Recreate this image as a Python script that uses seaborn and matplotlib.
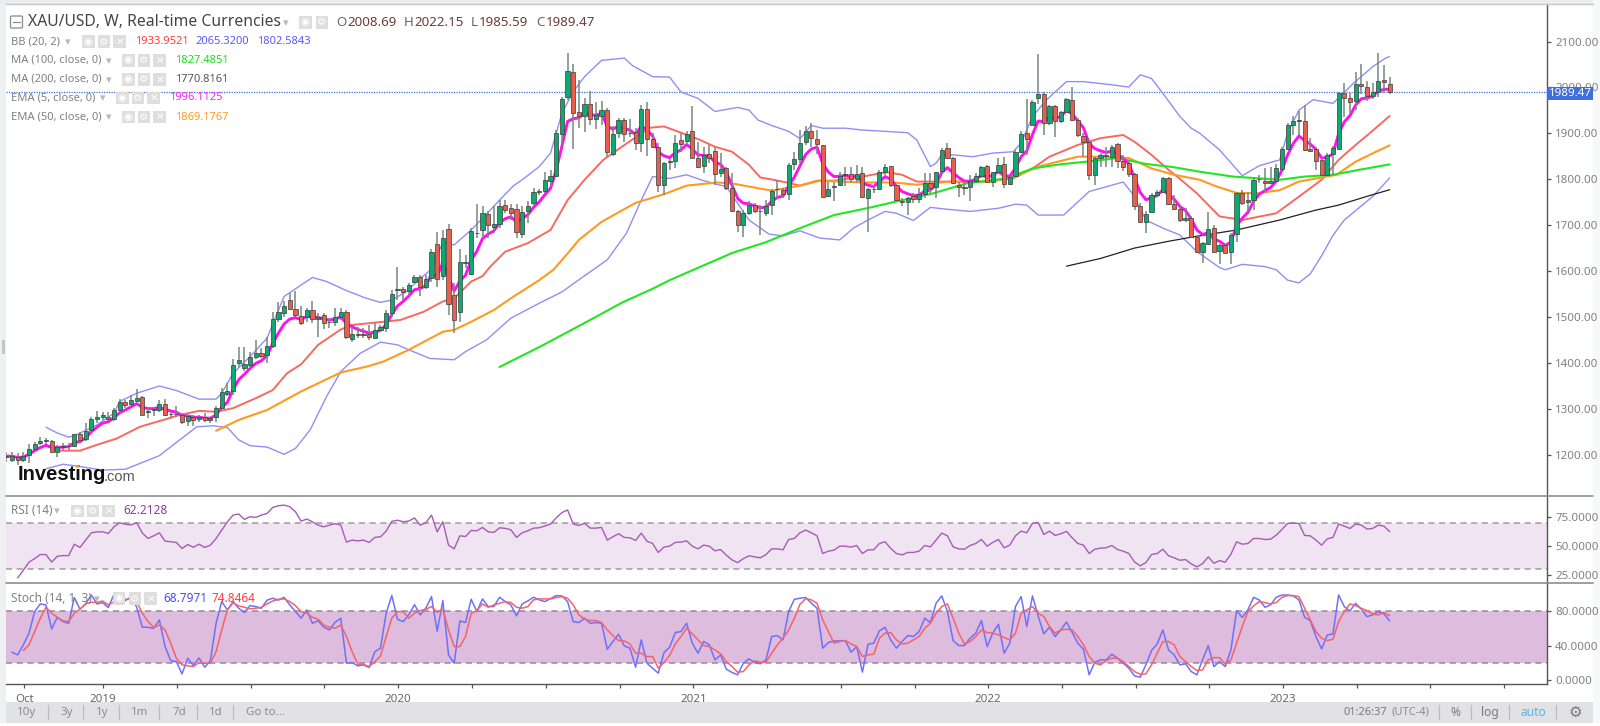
import numpy as np
import matplotlib
matplotlib.use('Agg')
import matplotlib.pyplot as plt
from matplotlib.lines import Line2D
from matplotlib.patches import Rectangle, FancyBboxPatch
import seaborn as sns

# Weekly candles (one value per week, first week is index 0)
opens = [1180,1174,1179,1174,1184,1198,1210,1216,1216,1190,
         1203,1204,1204,1232,1219,1240,1263,1268,1269,1263,
         1285,1301,1298,1304,1313,1280,1283,1285,1297,1275,
         1275,1274,1259,1268,1263,1268,1261,1268,1289,1320,
         1325,1387,1377,1384,1401,1411,1405,1426,1485,1499,
         1527,1508,1492,1490,1504,1485,1493,1478,1478,1490,
         1501,1442,1453,1450,1453,1444,1461,1465,1499,1549,
         1551,1547,1567,1577,1557,1575,1650,1581,1685,1538,
         1501,1609,1585,1675,1683,1717,1689,1695,1737,1730,
         1728,1673,1725,1741,1767,1768,1791,1802,1894,1977,
         2032,1943,1934,1961,1928,1935,1947,1850,1896,1925,
         1896,1898,1874,1950,1884,1865,1781,1833,1834,1880,
         1879,1900,1841,1824,1849,1856,1807,1818,1774,1725,
         1693,1719,1737,1723,1720,1737,1772,1771,1762,1827,
         1838,1877,1900,1884,1869,1758,1776,1782,1804,1806,
         1795,1809,1752,1772,1772,1810,1823,1782,1746,1743,
         1757,1750,1762,1785,1776,1813,1863,1841,1782,1778,
         1776,1791,1802,1824,1787,1810,1827,1783,1801,1854,
         1896,1914,1973,1982,1918,1955,1922,1942,1970,1925,
         1890,1877,1804,1842,1846,1844,1871,1834,1831,1806,
         1736,1700,1721,1760,1767,1796,1740,1729,1703,1708,
         1667,1634,1651,1687,1635,1648,1633,1673,1764,1743,
         1748,1794,1790,1785,1791,1816,1860,1914,1923,1924,
         1860,1860,1837,1804,1849,1862,1984,1973,1967,2005,
         1999,1978,1988,2013,2005]
closes = [1182,1182,1174,1183,1198,1209,1216,1216,1190,1202,
          1203,1204,1230,1218,1238,1263,1268,1272,1265,1285,
          1301,1296,1305,1311,1274,1282,1286,1297,1274,1275,
          1275,1258,1270,1261,1269,1261,1266,1288,1323,1325,
          1384,1395,1386,1401,1411,1404,1426,1485,1501,1514,
          1507,1495,1476,1505,1485,1490,1476,1478,1490,1501,
          1445,1453,1449,1450,1446,1461,1467,1498,1540,1551,
          1545,1560,1577,1557,1574,1633,1574,1664,1518,1484,
          1612,1609,1680,1675,1720,1692,1695,1735,1726,1720,
          1677,1722,1735,1765,1767,1792,1802,1896,1972,2033,
          1940,1935,1961,1928,1936,1947,1854,1894,1925,1894,
          1896,1874,1949,1884,1865,1782,1831,1833,1875,1871,
          1894,1842,1821,1847,1841,1805,1816,1775,1725,1692,
          1719,1737,1725,1723,1735,1768,1772,1762,1826,1838,
          1875,1900,1885,1872,1756,1773,1779,1802,1804,1795,
          1805,1756,1772,1772,1811,1821,1782,1748,1743,1752,
          1750,1761,1785,1774,1811,1859,1841,1785,1778,1775,
          1791,1802,1822,1789,1810,1826,1784,1800,1855,1894,
          1883,1966,1982,1918,1955,1922,1942,1971,1925,1891,
          1877,1804,1841,1848,1846,1865,1834,1821,1805,1736,
          1700,1718,1760,1767,1796,1740,1729,1703,1708,1667,
          1634,1653,1685,1633,1648,1630,1671,1763,1741,1748,
          1793,1794,1785,1791,1818,1861,1915,1922,1923,1859,
          1857,1835,1804,1848,1863,1984,1973,1964,2004,2000,
          1978,1986,2012,2009,1986]
highs = [1192,1192,1188,1192,1209,1214,1225,1221,1218,1207,
         1210,1210,1232,1236,1255,1268,1282,1280,1280,1288,
         1308,1306,1317,1330,1316,1290,1291,1305,1308,1280,
         1293,1277,1273,1272,1273,1277,1269,1293,1332,1343,
         1396,1424,1424,1413,1439,1420,1445,1501,1522,1524,
         1542,1546,1513,1509,1525,1498,1498,1487,1509,1509,
         1504,1468,1468,1465,1472,1476,1472,1505,1549,1601,
         1555,1564,1583,1582,1582,1641,1678,1682,1695,1564,
         1641,1627,1686,1740,1735,1724,1734,1748,1748,1740,
         1740,1735,1745,1774,1772,1811,1815,1903,1977,2073,
         2049,2014,1973,1989,1966,1968,1951,1911,1929,1929,
         1927,1907,1958,1966,1896,1874,1833,1840,1892,1896,
         1900,1956,1877,1866,1870,1866,1852,1822,1807,1726,
         1726,1745,1741,1737,1748,1772,1793,1774,1830,1855,
         1903,1911,1918,1902,1870,1789,1787,1811,1822,1821,
         1826,1822,1774,1782,1815,1828,1824,1784,1752,1756,
         1763,1774,1807,1807,1811,1863,1874,1844,1789,1785,
         1804,1807,1824,1826,1811,1841,1844,1804,1859,1900,
         1971,1970,2071,1988,1958,1958,1944,1973,1998,1929,
         1896,1881,1844,1852,1865,1870,1874,1848,1837,1807,
         1741,1723,1763,1771,1800,1800,1760,1734,1730,1712,
         1671,1656,1721,1693,1651,1651,1675,1765,1770,1767,
         1796,1804,1818,1822,1828,1866,1918,1934,1946,1958,
         1886,1866,1844,1852,1868,1987,2008,1984,2031,2048,
         2011,2008,2073,2047,2020]
lows = [1170,1170,1162,1168,1166,1196,1207,1209,1188,1179,
        1196,1195,1203,1214,1216,1236,1255,1262,1260,1260,
        1282,1288,1295,1302,1273,1266,1271,1280,1271,1266,
        1269,1252,1249,1249,1258,1257,1255,1258,1286,1314,
        1317,1380,1371,1376,1396,1398,1387,1420,1479,1490,
        1505,1490,1472,1479,1476,1446,1462,1465,1470,1483,
        1441,1434,1443,1443,1439,1441,1457,1457,1490,1527,
        1527,1535,1564,1536,1551,1568,1555,1571,1494,1454,
        1479,1597,1582,1664,1664,1664,1675,1686,1719,1704,
        1664,1664,1698,1734,1760,1763,1778,1800,1870,1970,
        1860,1907,1899,1914,1905,1914,1844,1846,1885,1877,
        1888,1859,1855,1846,1863,1767,1760,1815,1818,1855,
        1874,1841,1818,1807,1830,1782,1800,1770,1723,1677,
        1667,1715,1719,1671,1712,1715,1752,1752,1748,1815,
        1830,1870,1866,1850,1754,1754,1745,1779,1779,1785,
        1787,1752,1677,1763,1771,1804,1778,1745,1736,1715,
        1741,1741,1752,1763,1752,1807,1839,1784,1756,1760,
        1747,1785,1796,1787,1778,1807,1774,1782,1800,1852,
        1848,1914,1961,1892,1914,1887,1918,1940,1924,1887,
        1844,1793,1782,1822,1822,1821,1818,1813,1800,1726,
        1697,1675,1719,1756,1763,1737,1726,1700,1700,1664,
        1630,1610,1649,1630,1607,1630,1607,1656,1737,1723,
        1726,1785,1767,1785,1789,1815,1859,1892,1892,1857,
        1855,1815,1801,1801,1804,1862,1931,1940,1947,1983,
        1967,1971,1975,1984,1982]

ema5 = [1182,1182,1179,1180,1186,1194,1201,1206,1201,1201,
        1202,1203,1212,1214,1222,1236,1246,1255,1258,1267,
        1278,1284,1291,1298,1290,1287,1287,1290,1285,1282,
        1279,1272,1271,1268,1268,1266,1266,1273,1290,1301,
        1329,1351,1363,1376,1387,1393,1404,1431,1454,1474,
        1485,1488,1484,1491,1489,1489,1485,1483,1485,1490,
        1475,1468,1462,1458,1454,1456,1460,1473,1495,1514,
        1524,1536,1550,1552,1559,1584,1581,1609,1579,1547,
        1569,1582,1615,1635,1663,1673,1680,1698,1707,1711,
        1700,1707,1716,1732,1744,1760,1774,1815,1867,1922,
        1928,1930,1940,1936,1936,1940,1911,1905,1912,1906,
        1903,1893,1912,1903,1890,1854,1846,1842,1853,1859,
        1871,1861,1848,1847,1845,1832,1827,1810,1781,1752,
        1741,1740,1735,1731,1733,1745,1754,1757,1780,1799,
        1824,1849,1861,1865,1829,1810,1800,1801,1802,1800,
        1802,1786,1781,1778,1789,1800,1794,1779,1767,1762,
        1758,1759,1768,1770,1784,1809,1820,1808,1798,1790,
        1790,1794,1803,1799,1803,1811,1802,1801,1819,1844,
        1857,1893,1923,1921,1932,1929,1933,1946,1939,1923,
        1908,1873,1862,1857,1853,1857,1849,1840,1828,1797,
        1765,1749,1753,1758,1771,1760,1750,1734,1725,1706,
        1682,1672,1676,1662,1657,1648,1655,1691,1708,1721,
        1745,1761,1769,1776,1790,1814,1848,1873,1890,1880,
        1872,1860,1841,1843,1850,1895,1921,1935,1958,1972,
        1974,1978,1989,1993,1993]

# Bollinger bands and moving averages, read at the bends of each line
bb_upper_weeks = [7,9,11,12,16,19,20,23,27,30,34,37,38,40,43,46,49,54,56.5,60,63.5,66,68,70.6,73,75,77,79,82,84,87,
                  89.4,91,94,96,98,100,102,105,109,110.5,114,117,119,122,125,129,131,132.6,135,138,140,142,144,148,
                  151,159,160.6,163,164,165,167,170.5,174,177.6,179,181,183.5,187,190,195,198,200,202,204,207,209,
                  210.5,214,218,221,224.6,226,228,230.5,234,237.6,241,243.4,244]
bb_upper = [1246,1233,1224,1227,1251,1277,1303,1321,1337,1327,1308,1308,1321,1365,1402,1443,1535,1577,1568,1548,1531,
            1522,1527,1546,1575,1595,1655,1649,1682,1708,1748,1779,1793,1822,1852,1940,1988,2021,2057,2062,2045,2021,
            2020,1987,1973,1944,1953,1947,1925,1913,1900,1884,1913,1907,1907,1903,1897,1881,1822,1830,1848,1848,1844,
            1852,1855,1874,1933,1970,2010,2010,2003,1998,2025,2017,1984,1933,1907,1896,1859,1802,1824,1837,1896,1947,
            1970,1962,2006,2043,2063,2065]
bb_lower_weeks = [7,10,13,17,21,23.6,27,30.6,33.6,36.5,39,41,43,46,49,51,53.6,56.5,59,62.4,66,69,71,74.7,79,81,84.7,89,
                  94,98,101,106,109.4,112,114,117,120,122.5,125,127,129,131,134.5,137,140,143.5,147,149.4,152,155,157,
                  160,163,165,170,175,178,180,182,186.5,191,197,198.6,201,204,207,210,214,215,218,222,224,226,228,230,
                  232,234,236,241,244]
bb_lower = [1154,1164,1159,1151,1153,1166,1183,1218,1247,1249,1245,1218,1205,1202,1186,1199,1240,1314,1369,1409,1434,
            1428,1417,1398,1395,1413,1439,1487,1520,1545,1572,1616,1675,1748,1800,1796,1804,1793,1784,1778,1741,1704,
            1673,1669,1680,1664,1660,1686,1704,1723,1719,1703,1732,1729,1723,1730,1739,1737,1715,1715,1767,1788,1763,
            1704,1686,1671,1634,1599,1594,1606,1601,1594,1571,1565,1585,1625,1670,1704,1756,1797]
bb_mid_weeks = [8.3,13,16,19.5,23.6,27.7,30.6,34,37,40,44,47,49.5,52,55,59,61,66.5,69.5,73.6,77,79,82,84,85.3,88,92,96,
                97,99,102,105.3,109.5,113.5,116,118.8,122,125,128,131,133,135.3,137.6,140,143,146,151,155.3,158,160.6,
                166.5,173,177.6,181,184,189,193,197,199,202,205,207,210,214,218,224,227.6,232,235,238,240.5,244]
bb_mid = [1194,1194,1207,1221,1247,1262,1273,1282,1280,1288,1310,1328,1365,1385,1428,1462,1472,1479,1483,1501,1524,
          1531,1568,1580,1600,1634,1653,1682,1704,1748,1793,1837,1874,1908,1911,1898,1883,1866,1855,1826,1798,1793,
          1787,1780,1791,1791,1800,1810,1804,1789,1789,1789,1796,1818,1844,1870,1885,1892,1877,1848,1815,1795,1763,
          1712,1704,1719,1752,1793,1837,1870,1896,1934]
ma100_weeks = [87,94.3,101.5,108.7,114,117,128,134,140,146,151.8,157,163.5,169.4,176.4,181,185.8,190.5,196,201,205.8,
               210.4,216.4,224.6,229,234,238.6,244]
ma100 = [1379,1425,1473,1522,1552,1571,1631,1655,1686,1715,1730,1745,1763,1785,1796,1818,1827,1833,1841,1828,1821,
         1811,1800,1793,1800,1804,1815,1827]
ma200_weeks = [187,193,199,205,209,217,224.6,231,235,239.9,244]
ma200 = [1602,1619,1642,1657,1666,1682,1704,1726,1737,1756,1771]
ema50_weeks = [37,41,46,52,59,63.6,66.5,71,77,79,82,86,89,94,96.5,99,101,105,111,116,120,125.3,128,131,135,140,143.5,151,
               156.5,160.6,166.5,173.5,177.6,182,189,193,198,202,206,210.5,213.5,217,220.5,224.6,228,232.9,234.6,238,
               241.6,244]
ema50 = [1238,1262,1284,1325,1367,1380,1391,1417,1457,1461,1479,1505,1531,1571,1594,1630,1660,1700,1742,1761,1780,1787,
         1785,1778,1769,1780,1791,1787,1787,1782,1789,1789,1798,1822,1844,1844,1841,1818,1804,1793,1778,1764,1763,1770,
         1789,1800,1804,1833,1855,1869]

# RSI starts at week 2, stochastic %K at week 1, %D at week 3
rsi = [22.4,29,36,39,42.5,42.5,36,41,41.6,41.6,51.4,48.6,54.9,61.2,62,62,60.6,66.4,69.8,68.5,68,69.8,61,56.3,58.6,61.2,
       54,53.5,52.9,47.7,51.1,48.8,51.4,48.6,50.6,56.3,63.5,70.6,76.4,77.3,72.7,75,74.4,76.4,77.8,83,84.4,85,83.6,79.3,
       71.2,73,70.6,67.8,66.3,67.8,69,67.8,53.2,54.9,54.3,54.9,52.9,57.2,57.8,62.6,71,72,70.7,71.3,73.9,67.8,69.8,76.4,
       62,70.7,50.6,47.4,58.6,58,63.2,62.9,65.8,62,61.5,65.5,65,63.8,57.2,61.2,62.9,65.2,65.5,67,68.7,74.1,78.5,80.8,
       68.7,67.5,69.3,65.2,65.2,65.8,54.9,57.8,60.4,57.2,56.9,54.6,60.9,54,52,44.3,48.9,49.7,52.9,53.2,54.3,49.7,47.4,
       50.6,49.7,45.7,46.8,42,37.9,35.6,39,41.4,40.5,39.7,42.5,47.4,47.4,46.6,55.5,56.3,61.2,63.5,61.2,58.6,43.4,45.4,
       46.3,49.7,49.7,48.9,50.3,43.4,46.6,46.6,52,53.5,47.7,43.4,42.2,44.3,44.3,45.4,50.3,49.1,54.9,60.9,58.6,49.1,47.4,
       47.1,50.3,52,55.5,49.7,52.9,55.5,48.3,50.6,58.6,62.6,61.2,69.3,70.1,59.8,62.6,58.9,60.4,62.4,56.9,52,50.6,43.4,
       47.1,48,48.3,50.3,46.8,45.4,43.4,36.2,32.8,35.6,42.5,43.4,47.1,41.4,39.7,37.6,38.2,34.5,31.9,34.7,40.5,35,37.3,
       35.9,42.8,53.4,51.4,52,56.3,56.3,55.4,55.7,59.2,64,69.2,69.5,69.2,58.9,58.6,54.9,50.6,56,57.2,68.7,66.9,64.9,68.7,
       67.8,64.4,64.9,67.8,66.9,62.2]
stoch_k = [32.3,29.2,40.8,54.4,79.6,88.6,87.4,59.5,73,68,66,96,82.4,88.6,99,88.6,90,84.3,100,93,92.4,97,84.7,61.4,61.4,
           60.2,70,38.9,22.6,21.4,7,25.3,16.8,25.7,14.8,22.6,66,91.3,81.6,91.3,83.5,78.5,86.6,85.5,83.5,93,95.2,93,96.3,
           87.4,79.6,71.9,81.6,66,69,61.4,58.3,67.2,71.9,19.5,20.3,16.4,17.6,14.5,33,37,77.7,98.3,70.7,68,75.8,87.8,75.8,
           83.6,97.1,56.8,92.5,29.2,19.5,68.8,66.9,94,79.7,94.4,85.5,85.5,96.4,91.3,87.4,74.6,88.6,92.1,96.4,93.3,91.3,
           94.8,98.3,97.9,91.3,68,66.9,71.9,66.1,66.9,66.1,35.8,44.8,53.3,39.7,37,14.9,46.7,19.5,13.7,7.9,31.9,38.2,55.2,
           56.4,66.1,42.8,31.2,44.8,40.9,23.4,29.2,12.6,8.7,6,19.5,24.6,20.3,18.8,23.4,50.6,51.7,46.7,79.7,94,95.2,96,89.4,
           83.6,37,43.6,45.5,45.5,45.9,32.3,38.9,9.1,41.7,42.8,57.2,61.4,46.7,37,44.8,51.7,50.6,56.4,71.9,66.9,89.4,97.9,
           79.7,45.9,40.1,40.1,48.6,54.5,69.2,38.9,54.5,64.9,31.2,42.8,85.5,97.1,62.2,97.9,74.6,53.7,61.4,50.6,58.3,67.6,
           55.2,42.8,35.8,6,20.7,23.4,23.4,30,25.4,19.5,13.7,4.8,3.2,17.6,34.3,42,58.3,35,29.2,17.6,18.8,9.8,6,23.4,40,15.6,
           21.4,15.6,35,80.8,72.7,81.6,96.3,93.2,84.7,87.4,96.3,99,99,97.9,93.2,73,69.2,50.5,36.2,52.5,53.6,99,85.5,80.4,
           89.3,82.4,73.8,75.8,79.6,76.9,68.8]
stoch_d = [34.2,40.8,56.4,71.9,84.7,77.7,73,69,68,77.7,82.4,88.6,90.5,90.5,92,87.4,91.3,93,94,94.4,91.3,77.7,68,61.4,64,
           58.3,42.8,25.3,17.6,16.4,15.6,20.3,19.5,19.5,33,58.3,81.6,90,86.2,84.7,82.7,83.5,84.7,88.6,92,94,94.4,91.3,86.6,
           79.6,77.7,73,70.7,64,61.4,60.2,64,50.5,33,18.3,18.3,15.6,21.4,28,50.5,71.9,79.6,79.7,71.9,77.7,80.8,82.4,85.5,
           78.9,82.4,58.3,38.9,38.9,50.6,77.7,80.8,88.6,84.7,87.4,89.4,91.3,90.2,84.7,83.6,85.5,93.3,94.4,94.4,94.4,96,97.1,
           95.2,87.4,75.8,70.8,69.2,69.2,66.9,58.3,51.7,45.9,45.5,42,31.2,31.2,27.3,27.3,13.7,20.3,28.5,42,50.6,60.3,53.7,
           46.7,40,38.9,35,30.4,21.5,15.7,9,9.8,17.6,22.3,20.7,20.7,31.2,40.9,48.6,58.3,71.9,88.2,94.8,93.3,89.4,70,56.4,
           42.8,44.8,45.9,42,38.9,27.3,29.2,30,48.6,54.5,55.2,46.7,42,42.8,46.7,50.6,60.3,66.1,77.7,85.5,88.6,71.9,54.5,42,
           44.8,50.6,58.3,55.2,54.5,52.5,49.4,46.7,54.5,77.7,81.6,85.5,77.7,73.9,62.2,54.5,58.3,59.1,58.3,50.6,40.9,27.3,
           19.5,17.6,22.6,25.4,25.4,21.5,15.7,9.8,6.7,7.1,17.6,31.2,44.8,44.8,40.9,27.3,21.5,15.7,11,11.7,23.4,26,26,18.3,
           23.4,42.8,62.2,79.6,86.2,91.3,90.1,88.6,90.1,96.3,98.3,98.3,97.1,83.5,69.9,56.4,48.6,45.9,47.4,68,79.6,88.6,86.6,
           83.5,80.8,76.9,75.8,78.5,74.8]

price_ticks = [1200,1300,1400,1500,1600,1700,1800,1900,2000,2100]
rsi_ticks = [25,50,75]
stoch_ticks = [0,40,80]
tick_weeks = [3.2,17.1,30.1,43.1,56.1,69.1,82.2,95.2,108.2,121.2,134.2,147.2,160.2,173.2,186.2,199.2,212.2,225.2,238.2,251.2,264.2]
tick_labels = ['Oct','2019','','','','2020','','','','2021','','','','2022','','','','2023','','','']
last_close = 1989.47

sns.set_theme(style='white')
plt.rcParams['font.family'] = ['Noto Sans', 'DejaVu Sans']

W, H = 1600, 726
AXIS = '#555555'
TEXT = '#808080'
GREEN, RED = '#10a870', '#e8604c'


def box(left, top, right, bottom):
    return [left / W, 1 - bottom / H, (right - left) / W, (bottom - top) / H]


# the candle prices above came off a first guess of the price scale, so bring them onto the real one
def on_scale(values):
    values = np.asarray(values, dtype=float)
    return values + 1.53 + (2100 - values) * 0.01417


fig = plt.figure(figsize=(16, 7.26), dpi=100, facecolor='white')


def ftext(x, y, s, **kw):
    kw.setdefault('va', 'center')
    kw.setdefault('color', TEXT)
    kw.setdefault('fontsize', 8)
    fig.text(x / W, 1 - y / H, s, **kw)


def frect(x0, y0, x1, y1, color, z=0):
    fig.add_artist(Rectangle((x0 / W, 1 - y1 / H), (x1 - x0) / W, (y1 - y0) / H, transform=fig.transFigure,
                             facecolor=color, edgecolor='none', zorder=z))


def fline(x0, y0, x1, y1, color, lw=1.0, z=5):
    fig.add_artist(Line2D([x0 / W, x1 / W], [1 - y0 / H, 1 - y1 / H], transform=fig.transFigure,
                          color=color, lw=lw, zorder=z))


ax = fig.add_axes(box(6, 4, 1546.7, 496))
ax_rsi = fig.add_axes(box(6, 496, 1546.7, 583.3))
ax_st = fig.add_axes(box(6, 583.3, 1546.7, 684))

# price pane
o, h, l, c = on_scale(opens), on_scale(highs), on_scale(lows), on_scale(closes)
weeks = np.arange(len(closes))
ax.axhline(last_close, color='#3f6fdf', lw=0.9, ls=(0, (1, 1)), zorder=1)


def draw_line(axis, x, y, color, lw):
    sns.lineplot(x=x, y=y, ax=axis, color=color, lw=lw, errorbar=None, sort=False, legend=False, zorder=2)


draw_line(ax, bb_upper_weeks, on_scale(bb_upper), '#8f8ff5', 1.0)
draw_line(ax, bb_lower_weeks, on_scale(bb_lower), '#8f8ff5', 1.0)
draw_line(ax, bb_mid_weeks, on_scale(bb_mid), '#f8695f', 1.4)
draw_line(ax, ema50_weeks, on_scale(ema50), '#ff9a1f', 1.5)
draw_line(ax, ma100_weeks, on_scale(ma100), '#22e622', 1.5)
draw_line(ax, ma200_weeks, on_scale(ma200), '#222222', 0.9)
draw_line(ax, weeks, on_scale(ema5), '#ff10ef', 2.1)

up = c >= o
ax.vlines(weeks, l, h, color='#76887e', lw=1.1, zorder=3)
ax.bar(weeks, np.maximum(np.abs(c - o), 1.2), bottom=np.minimum(o, c), width=0.74,
       color=np.where(up, GREEN, RED), edgecolor='#3a3a3a', linewidth=0.5, zorder=4)

ax.set_ylim(1109.6, 2182)
ax.set_yticks(price_ticks)
ax.set_yticklabels([f'{v:.2f}' for v in price_ticks])

# RSI pane
ax_rsi.axhspan(30, 70, color='#f0e4f2', lw=0, zorder=0)
for lev in (30, 70):
    ax_rsi.axhline(lev, color='#a09aa0', lw=1.1, ls=(0, (4, 3)), zorder=1)
draw_line(ax_rsi, np.arange(len(rsi)) + 2, rsi, '#a75bb5', 1.0)
ax_rsi.set_ylim(17.8, 92.8)
ax_rsi.set_yticks(rsi_ticks)
ax_rsi.set_yticklabels([f'{v:.4f}' for v in rsi_ticks])

# stochastic pane
ax_st.axhspan(20, 80, color='#ddbcdd', lw=0, zorder=0)
for lev in (20, 80):
    ax_st.axhline(lev, color='#97869a', lw=1.1, ls=(0, (4, 3)), zorder=1)
draw_line(ax_st, np.arange(len(stoch_k)) + 1, stoch_k, '#7070fa', 1.1)
draw_line(ax_st, np.arange(len(stoch_d)) + 3, stoch_d, '#f5636a', 1.1)
ax_st.set_ylim(-4.7, 112.6)
ax_st.set_yticks(stoch_ticks)
ax_st.set_yticklabels([f'{v:.4f}' for v in stoch_ticks])
ax_st.set_xticks(tick_weeks)
ax_st.set_xticklabels(tick_labels, fontsize=8.3, color='#666666', fontweight='bold')
ax_st.get_xticklabels()[0].set_fontweight('normal')
ax_st.tick_params(axis='x', length=3, width=0.9, color=AXIS, pad=4, bottom=True)

for a in (ax, ax_rsi, ax_st):
    a.set_xlim(-0.05, 271.7)
    a.set_facecolor('none')
    a.set_xlabel('')
    a.set_ylabel('')
    a.yaxis.tick_right()
    a.tick_params(axis='y', length=3, width=0.9, color=AXIS, labelcolor=TEXT, labelsize=8.3, pad=3, right=True)
    for side in ('top', 'left', 'bottom'):
        a.spines[side].set_visible(False)
    a.spines['right'].set_visible(True)
    a.spines['right'].set_color(AXIS)
    a.spines['right'].set_linewidth(1.0)
    if a is not ax_st:
        a.set_xticks([])
ax_st.spines['bottom'].set_visible(True)
ax_st.spines['bottom'].set_color(AXIS)
ax_st.spines['bottom'].set_linewidth(1.0)

# chrome of the page around the panes
frect(0, 0, 6, 726, '#eef0f4')
frect(2, 340, 4.5, 354, '#c4c6ca', z=1)
frect(0, 0, 1600, 4, '#eaecf0')
frect(1593, 0, 1600, 726, '#f7f8fa')
frect(6, 702, 1593, 723, '#e2e2e4')
frect(0, 723, 1600, 726, '#ffffff')
fline(6, 4, 1593, 4, '#c8c8cc', 1.0)
fline(6, 496, 1593, 496, '#8e8e8e', 1.2)
fline(6, 583.3, 1593, 583.3, '#8e8e8e', 1.2)

# last price tag
frect(1547, 86.5, 1593, 100, '#3f6fdf', z=6)
ftext(1570, 93, '1989.47', color='white', fontsize=8.3, fontweight='bold', ha='center', zorder=7)


def icon_group(x, y, size=12.5, step=15.7):
    for k, glyph in enumerate(('◉', '⚙', '✕')):
        fig.add_artist(FancyBboxPatch(((x + k * step) / W, 1 - (y + size / 2) / H), size / W, size / H,
                                      boxstyle='square,pad=0', transform=fig.transFigure,
                                      facecolor='#dedede', edgecolor='none', zorder=6))
        ftext(x + k * step + size / 2, y, glyph, color='white', fontsize=7.5, ha='center',
              family='DejaVu Sans', zorder=7)


def caret(x, y):
    ftext(x, y, '▾', color='#b8b8b8', fontsize=8, ha='center', family='DejaVu Sans', zorder=7)


# title row
fig.add_artist(FancyBboxPatch((10.5 / W, 1 - 28 / H), 12 / W, 12 / H, boxstyle='round,pad=0,rounding_size=0.001',
                              transform=fig.transFigure, facecolor='white', edgecolor='#8a8a8a', lw=0.9, zorder=6))
fline(13, 22, 20, 22, '#8a8a8a', 0.9, z=7)
ftext(28, 22.5, 'XAU/USD, W, Real-time Currencies', color='#444444', fontsize=11.3, zorder=7)
caret(286, 23)
for gx, gl in ((299, '◉'), (315.5, '⚙')):
    frect(gx, 16, gx + 12.5, 28.5, '#dedede', z=6)
    ftext(gx + 6.2, 22.3, gl, color='white', fontsize=7.5, ha='center', family='DejaVu Sans', zorder=7)
for x_label, letter, x_value, value in ((336, 'O', 347, '2008.69'), (404, 'H', 414, '2022.15'),
                                        (471, 'L', 479, '1985.59'), (536, 'C', 546, '1989.47')):
    ftext(x_label, 22.5, letter, color='#666666', fontsize=9.6, zorder=7)
    ftext(x_value, 22.5, value, color='#6d3b3b', fontsize=9.6, zorder=7)

# indicator rows
ftext(11, 41.7, 'BB (20, 2)', zorder=7)
caret(68, 42)
icon_group(82, 41.7)
for x_value, value, colour in ((135, '1933.9521', '#ff3c3c'), (195, '2065.3200', '#5a5aff'), (257, '1802.5843', '#5a5aff')):
    ftext(x_value, 41.7, value, color=colour, zorder=7)
ftext(11, 60.3, 'MA (100, close, 0)', zorder=7)
caret(109, 61)
icon_group(122, 60.3)
ftext(175, 60.3, '1827.4851', color='#18e018', zorder=7)
ftext(11, 79.3, 'MA (200, close, 0)', zorder=7)
caret(109, 80)
icon_group(122, 79.3)
ftext(175, 79.3, '1770.8161', color='#555555', zorder=7)
ftext(11, 98, 'EMA (5, close, 0)', zorder=7)
caret(103, 98.5)
icon_group(116, 98)
ftext(169, 98, '1996.1125', color='#ff20ff', zorder=7)
ftext(11, 117, 'EMA (50, close, 0)', zorder=7)
caret(109, 117.5)
icon_group(122, 117)
ftext(175, 117, '1869.1767', color='#ff9a1f', zorder=7)

ftext(11, 511, 'RSI (14)', fontsize=8.5, zorder=7)
caret(57, 511)
icon_group(71, 511)
ftext(123, 511, '62.2128', color='#8e3a9e', fontsize=8.5, zorder=7)
ftext(11, 598.5, 'Stoch (14, 1, 3)', fontsize=8.5, zorder=7)
caret(97, 599)
icon_group(113, 598.5)
ftext(163, 598.5, '68.7971', color='#4a4aff', fontsize=8.5, zorder=7)
ftext(212, 598.5, '74.8464', color='#ff3c3c', fontsize=8.5, zorder=7)

# logo
ftext(18, 475, 'Investing', color='#111111', fontsize=14.5, fontweight='bold', family='Liberation Sans', zorder=7)
ftext(103.5, 477, '.com', color='#555555', fontsize=10.5, family='Liberation Sans', zorder=7)
fig.add_artist(Line2D([77 / W], [1 - 466 / H], transform=fig.transFigure, marker='o', ms=2.4, color='#f5a623', mew=0, zorder=8))

# bottom bar
for x_text, label in ((27, '10y'), (66.5, '3y'), (102.5, '1y'), (140, '1m'), (179, '7d'), (215.5, '1d')):
    ftext(x_text, 712.5, label, ha='center', fontsize=8.3, color='#8c8c8c', fontweight='bold', zorder=7)
ftext(246, 712.5, 'Go to...', fontsize=8.3, color='#8c8c8c', fontweight='bold', zorder=7)
for x_sep in (48, 83, 119, 159, 197, 233, 1439, 1471, 1509, 1556):
    fline(x_sep, 705, x_sep, 719, '#bcbcbc', 0.9, z=7)
ftext(1344, 712.5, '01:26:37', color='#7a7a7a', fontsize=8, zorder=7)
ftext(1392, 712.5, '(UTC-4)', color='#8c8c8c', fontsize=8, zorder=7)
ftext(1455, 712.5, '%', color='#7a7a7a', fontsize=8.6, ha='center', fontweight='bold', zorder=7)
ftext(1490, 712.5, 'log', color='#7a7a7a', fontsize=8.6, ha='center', zorder=7)
ftext(1533, 712.5, 'auto', color='#5ab4e8', fontsize=8.6, ha='center', zorder=7)
ftext(1575, 712, '⚙', color='#7a7a7a', fontsize=11, ha='center', family='DejaVu Sans', zorder=7)

fig.savefig('out.png', dpi=100)
